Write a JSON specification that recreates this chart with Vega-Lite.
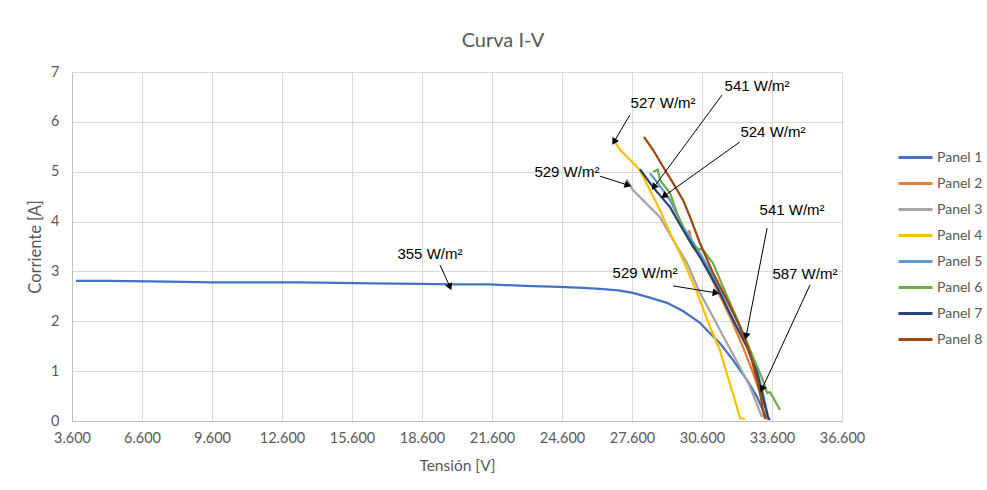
{
  "$schema": "https://vega.github.io/schema/vega-lite/v6.json",
  "autosize": {"type": "none"},
  "padding": {"left": 72, "top": 72, "right": 145, "bottom": 69},
  "width": 770,
  "height": 349,
  "background": "white",
  "title": {"text": "Curva I-V", "fontSize": 20, "font": "Lato", "fontWeight": "normal", "color": "#595959", "frame": "group", "anchor": "middle", "dx": 46, "offset": 13},
  "config": {"view": {"stroke": null}, "font": "Lato"},
  "datasets": {
    "curves": [
      {"panel": "Panel 1", "v": 3.77, "i": 2.81}, {"panel": "Panel 1", "v": 5.2, "i": 2.81}, {"panel": "Panel 1", "v": 6.94, "i": 2.8}, {"panel": "Panel 1", "v": 8.4, "i": 2.79}, {"panel": "Panel 1", "v": 9.6, "i": 2.78}, {"panel": "Panel 1", "v": 11.0, "i": 2.78}, {"panel": "Panel 1", "v": 13.37, "i": 2.78}, {"panel": "Panel 1", "v": 15.0, "i": 2.77}, {"panel": "Panel 1", "v": 16.46, "i": 2.76}, {"panel": "Panel 1", "v": 18.51, "i": 2.75}, {"panel": "Panel 1", "v": 20.0, "i": 2.74}, {"panel": "Panel 1", "v": 21.51, "i": 2.74}, {"panel": "Panel 1", "v": 23.0, "i": 2.71}, {"panel": "Panel 1", "v": 24.51, "i": 2.69}, {"panel": "Panel 1", "v": 25.5, "i": 2.67}, {"panel": "Panel 1", "v": 26.23, "i": 2.65}, {"panel": "Panel 1", "v": 27.0, "i": 2.62}, {"panel": "Panel 1", "v": 27.64, "i": 2.57}, {"panel": "Panel 1", "v": 28.4, "i": 2.47}, {"panel": "Panel 1", "v": 29.1, "i": 2.37}, {"panel": "Panel 1", "v": 29.8, "i": 2.2}, {"panel": "Panel 1", "v": 30.51, "i": 1.97}, {"panel": "Panel 1", "v": 31.0, "i": 1.73}, {"panel": "Panel 1", "v": 31.37, "i": 1.56}, {"panel": "Panel 1", "v": 31.93, "i": 1.22}, {"panel": "Panel 1", "v": 32.53, "i": 0.82}, {"panel": "Panel 1", "v": 32.96, "i": 0.48}, {"panel": "Panel 1", "v": 33.21, "i": 0.22}, {"panel": "Panel 1", "v": 33.39, "i": 0.04},

      {"panel": "Panel 2", "v": 30.04, "i": 3.83}, {"panel": "Panel 2", "v": 30.21, "i": 3.49}, {"panel": "Panel 2", "v": 30.64, "i": 3.23}, {"panel": "Panel 2", "v": 31.24, "i": 2.63}, {"panel": "Panel 2", "v": 31.8, "i": 2.09}, {"panel": "Panel 2", "v": 32.36, "i": 1.48}, {"panel": "Panel 2", "v": 32.79, "i": 0.96}, {"panel": "Panel 2", "v": 33.09, "i": 0.56}, {"panel": "Panel 2", "v": 33.39, "i": 0.16}, {"panel": "Panel 2", "v": 33.43, "i": 0.02},

      {"panel": "Panel 3", "v": 27.37, "i": 4.85}, {"panel": "Panel 3", "v": 27.64, "i": 4.63}, {"panel": "Panel 3", "v": 28.07, "i": 4.43}, {"panel": "Panel 3", "v": 28.8, "i": 4.09}, {"panel": "Panel 3", "v": 29.36, "i": 3.63}, {"panel": "Panel 3", "v": 29.96, "i": 3.17}, {"panel": "Panel 3", "v": 30.51, "i": 2.57}, {"panel": "Panel 3", "v": 31.07, "i": 2.09}, {"panel": "Panel 3", "v": 31.67, "i": 1.56}, {"panel": "Panel 3", "v": 32.23, "i": 1.08}, {"panel": "Panel 3", "v": 32.66, "i": 0.68}, {"panel": "Panel 3", "v": 33.0, "i": 0.28}, {"panel": "Panel 3", "v": 33.17, "i": 0.08},

      {"panel": "Panel 4", "v": 26.87, "i": 5.6}, {"panel": "Panel 4", "v": 27.09, "i": 5.44}, {"panel": "Panel 4", "v": 27.66, "i": 5.17}, {"panel": "Panel 4", "v": 27.94, "i": 5.03}, {"panel": "Panel 4", "v": 28.37, "i": 4.63}, {"panel": "Panel 4", "v": 28.8, "i": 4.23}, {"panel": "Panel 4", "v": 29.23, "i": 3.77}, {"panel": "Panel 4", "v": 29.79, "i": 3.23}, {"panel": "Panel 4", "v": 30.39, "i": 2.57}, {"panel": "Panel 4", "v": 30.94, "i": 1.89}, {"panel": "Panel 4", "v": 31.37, "i": 1.42}, {"panel": "Panel 4", "v": 31.71, "i": 0.88}, {"panel": "Panel 4", "v": 32.01, "i": 0.42}, {"panel": "Panel 4", "v": 32.23, "i": 0.06}, {"panel": "Panel 4", "v": 32.44, "i": 0.04},

      {"panel": "Panel 5", "v": 28.37, "i": 4.97}, {"panel": "Panel 5", "v": 28.71, "i": 4.77}, {"panel": "Panel 5", "v": 29.23, "i": 4.43}, {"panel": "Panel 5", "v": 29.79, "i": 3.9}, {"panel": "Panel 5", "v": 30.51, "i": 3.37}, {"panel": "Panel 5", "v": 31.24, "i": 2.77}, {"panel": "Panel 5", "v": 31.93, "i": 2.17}, {"panel": "Panel 5", "v": 32.53, "i": 1.56}, {"panel": "Panel 5", "v": 32.96, "i": 1.02}, {"panel": "Panel 5", "v": 33.21, "i": 0.56}, {"panel": "Panel 5", "v": 33.39, "i": 0.16},

      {"panel": "Panel 6", "v": 28.5, "i": 5.0}, {"panel": "Panel 6", "v": 28.71, "i": 5.04}, {"panel": "Panel 6", "v": 28.8, "i": 4.83}, {"panel": "Panel 6", "v": 29.23, "i": 4.57}, {"panel": "Panel 6", "v": 29.53, "i": 4.17}, {"panel": "Panel 6", "v": 29.96, "i": 3.69}, {"panel": "Panel 6", "v": 30.21, "i": 3.49}, {"panel": "Panel 6", "v": 30.64, "i": 3.43}, {"panel": "Panel 6", "v": 31.07, "i": 3.17}, {"panel": "Panel 6", "v": 31.5, "i": 2.69}, {"panel": "Panel 6", "v": 31.93, "i": 2.23}, {"panel": "Panel 6", "v": 32.36, "i": 1.77}, {"panel": "Panel 6", "v": 32.79, "i": 1.28}, {"panel": "Panel 6", "v": 33.21, "i": 0.82}, {"panel": "Panel 6", "v": 33.39, "i": 0.56}, {"panel": "Panel 6", "v": 33.51, "i": 0.58}, {"panel": "Panel 6", "v": 33.64, "i": 0.48}, {"panel": "Panel 6", "v": 33.94, "i": 0.22},

      {"panel": "Panel 7", "v": 27.94, "i": 5.05}, {"panel": "Panel 7", "v": 28.5, "i": 4.69}, {"panel": "Panel 7", "v": 29.23, "i": 4.29}, {"panel": "Panel 7", "v": 29.79, "i": 3.83}, {"panel": "Panel 7", "v": 30.51, "i": 3.29}, {"panel": "Panel 7", "v": 31.24, "i": 2.69}, {"panel": "Panel 7", "v": 31.93, "i": 2.03}, {"panel": "Panel 7", "v": 32.53, "i": 1.48}, {"panel": "Panel 7", "v": 32.96, "i": 0.96}, {"panel": "Panel 7", "v": 33.21, "i": 0.48}, {"panel": "Panel 7", "v": 33.43, "i": 0.08}, {"panel": "Panel 7", "v": 33.51, "i": 0.02},

      {"panel": "Panel 8", "v": 28.11, "i": 5.7}, {"panel": "Panel 8", "v": 28.5, "i": 5.44}, {"panel": "Panel 8", "v": 28.93, "i": 5.1}, {"panel": "Panel 8", "v": 29.36, "i": 4.77}, {"panel": "Panel 8", "v": 29.79, "i": 4.43}, {"panel": "Panel 8", "v": 30.09, "i": 4.09}, {"panel": "Panel 8", "v": 30.51, "i": 3.57}, {"panel": "Panel 8", "v": 31.07, "i": 2.97}, {"panel": "Panel 8", "v": 31.67, "i": 2.43}, {"panel": "Panel 8", "v": 32.23, "i": 1.89}, {"panel": "Panel 8", "v": 32.66, "i": 1.36}, {"panel": "Panel 8", "v": 32.96, "i": 0.82}, {"panel": "Panel 8", "v": 33.09, "i": 0.56}, {"panel": "Panel 8", "v": 33.21, "i": 0.22}, {"panel": "Panel 8", "v": 33.3, "i": 0.04}
    ],
    "notes": [
      {"label": "355 W/m²", "tx": 18.94, "ty": 3.35, "x1": 19.37, "y1": 3.13, "x2": 19.8, "y2": 2.69},
      {"label": "527 W/m²", "tx": 28.93, "ty": 6.38, "x1": 27.51, "y1": 6.14, "x2": 26.83, "y2": 5.6},
      {"label": "541 W/m²", "tx": 32.96, "ty": 6.72, "x1": 31.46, "y1": 6.54, "x2": 28.54, "y2": 4.69},
      {"label": "524 W/m²", "tx": 33.64, "ty": 5.8, "x1": 32.23, "y1": 5.6, "x2": 28.97, "y2": 4.51},
      {"label": "529 W/m²", "tx": 24.81, "ty": 4.99, "x1": 26.23, "y1": 4.91, "x2": 27.43, "y2": 4.73},
      {"label": "541 W/m²", "tx": 34.46, "ty": 4.23, "x1": 33.39, "y1": 3.87, "x2": 32.49, "y2": 1.7},
      {"label": "529 W/m²", "tx": 28.16, "ty": 2.97, "x1": 29.36, "y1": 2.71, "x2": 31.2, "y2": 2.57},
      {"label": "587 W/m²", "tx": 35.01, "ty": 2.95, "x1": 35.23, "y1": 2.73, "x2": 33.17, "y2": 0.64}
    ]
  },
  "layer": [
    {
      "data": {"name": "curves"},
      "mark": {"type": "line", "strokeWidth": 2.25},
      "encoding": {
        "x": {"field": "v", "type": "quantitative", "scale": {"domain": [3.6, 36.6], "nice": false, "zero": false},
          "axis": {"values": [3.6, 6.6, 9.6, 12.6, 15.6, 18.6, 21.6, 24.6, 27.6, 30.6, 33.6, 36.6], "format": ".3f", "title": "Tensión [V]", "grid": true, "gridColor": "#D9D9D9", "domainColor": "#BFBFBF", "ticks": false, "labelFlush": false, "labelOverlap": false, "labelPadding": 10, "labelFontSize": 14.5, "labelColor": "#595959", "labelFont": "Lato", "titleFont": "Lato", "titleFontSize": 15.5, "titleFontWeight": "normal", "titleColor": "#595959", "titlePadding": 14}},
        "y": {"field": "i", "type": "quantitative", "scale": {"domain": [0, 7], "nice": false},
          "axis": {"values": [0, 1, 2, 3, 4, 5, 6, 7], "title": "Corriente [A]", "grid": true, "gridColor": "#D9D9D9", "domainColor": "#BFBFBF", "ticks": false, "labelFlush": false, "labelOverlap": false, "labelPadding": 13, "labelFontSize": 14.5, "labelColor": "#595959", "labelFont": "Lato", "titleFont": "Lato", "titleFontSize": 16.5, "titleFontWeight": "normal", "titleColor": "#595959", "titlePadding": 7}},
        "color": {"field": "panel", "type": "nominal",
          "scale": {"domain": ["Panel 1", "Panel 2", "Panel 3", "Panel 4", "Panel 5", "Panel 6", "Panel 7", "Panel 8"], "range": ["#4472C4", "#ED7D31", "#A5A5A5", "#FFC000", "#5B9BD5", "#70AD47", "#264478", "#9E480E"]},
          "legend": {"title": null, "orient": "none", "legendX": 825, "legendY": 67, "symbolType": "stroke", "symbolSize": 1156, "symbolStrokeWidth": 3, "rowPadding": 0, "labelFontSize": 14, "labelFont": "Lato", "labelColor": "#595959", "labelOffset": 3}},
        "order": {"value": null}
      }
    },
    {
      "data": {"name": "notes"},
      "mark": {"type": "rule", "color": "black", "strokeWidth": 1},
      "encoding": {
        "x": {"field": "x1", "type": "quantitative"},
        "y": {"field": "y1", "type": "quantitative"},
        "x2": {"field": "x2"},
        "y2": {"field": "y2"}
      }
    },
    {
      "data": {"name": "notes"},
      "transform": [{"calculate": "atan2((datum.x2 - datum.x1) * 23.333, (datum.y2 - datum.y1) * 49.857) * 180 / PI", "as": "ang"}],
      "mark": {"type": "point", "shape": "triangle-up", "filled": true, "color": "black", "size": 60, "opacity": 1},
      "encoding": {
        "x": {"field": "x2", "type": "quantitative"},
        "y": {"field": "y2", "type": "quantitative"},
        "angle": {"field": "ang", "type": "quantitative", "scale": null}
      }
    },
    {
      "data": {"name": "notes"},
      "mark": {"type": "text", "font": "Liberation Sans", "fontSize": 15, "color": "black", "align": "center", "baseline": "middle"},
      "encoding": {
        "x": {"field": "tx", "type": "quantitative"},
        "y": {"field": "ty", "type": "quantitative"},
        "text": {"field": "label"}
      }
    }
  ]
}
